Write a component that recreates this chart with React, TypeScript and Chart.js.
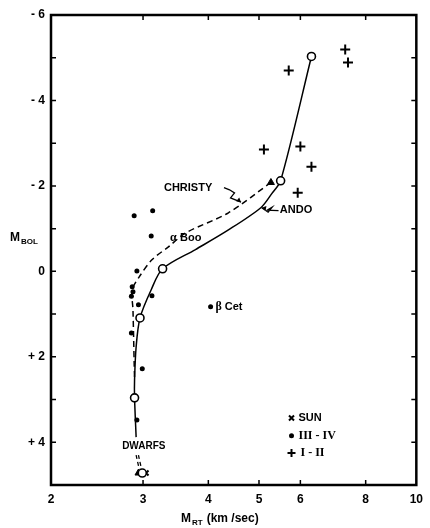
import React, { useEffect, useRef } from "react";
import { Chart, registerables } from "chart.js";

Chart.register(...registerables);

// Solid curve (model)
const solidX = [6.30, 5.50, 5.29, 5.04, 4.37, 3.78, 3.27, 3.11, 2.96, 2.91, 2.89, 2.89, 2.91];
const solidY = [-5.03, -2.12, -1.82, -1.49, -0.97, -0.51, -0.06, 0.43, 1.09, 1.77, 2.54, 2.96, 3.88];
// Dashed curve (Christy)
const christyX = [5.27, 4.37, 3.62, 3.36, 3.12, 2.95, 2.86, 2.87, 2.885, 2.89];
const christyY = [-2.08, -1.37, -0.90, -0.58, -0.27, 0.13, 0.43, 0.90, 2.14, 2.5];
// Dwarf dashed segments
const dwarfAX = [2.91, 2.95];
const dwarfBX = [2.94, 2.98];
const dwarfY = [4.30, 4.63];
// Open circles on the curve
const openX = [6.30, 5.50, 3.27, 2.96, 2.89, 2.99];
const openY = [-5.03, -2.12, -0.06, 1.09, 2.96, 4.72];
// Triangles
const triX = [5.27, 2.94];
const triY = [-2.08, 4.72];
// Sun
const sunX = [3.04];
const sunY = [4.72];
// Luminosity class III-IV
const dotX = [2.885, 3.13, 3.11, 2.92, 2.86, 2.87, 2.85, 3.12, 2.94, 4.04, 2.85, 2.99, 2.92];
const dotY = [-1.30, -1.42, -0.83, -0.01, 0.36, 0.48, 0.58, 0.57, 0.78, 0.83, 1.44, 2.28, 3.48];
// Luminosity class I-II
const plusX = [7.31, 7.40, 5.70, 5.11, 6.00, 6.30, 5.93];
const plusY = [-5.19, -4.89, -4.70, -2.85, -2.92, -2.45, -1.84];

const xTicks = [2, 3, 4, 5, 6, 8, 10];
const yTicks = [-6, -4, -2, 0, 2, 4];
const yMinorTicks = [-5, -4, -3, -2, -1, 0, 1, 2, 3, 4];
const xInnerTicks = [3, 4, 5, 6, 8];

const pts = (xs: number[], ys: number[]) => xs.map((x, i) => ({ x, y: ys[i] }));

const SANS = '"Liberation Sans", Arial, sans-serif';
const SERIF = '"Liberation Serif", serif';

const decorPlugin = {
  id: "decor",
  afterDraw(chart: any) {
    const ctx = chart.ctx;
    const xs = chart.scales.x;
    const ys = chart.scales.y;
    const { left, right, top, bottom } = chart.chartArea;
    const X = (v: number) => xs.getPixelForValue(v);
    const Y = (v: number) => ys.getPixelForValue(v);
    ctx.save();
    ctx.strokeStyle = "#000";
    ctx.fillStyle = "#000";
    // frame
    ctx.lineWidth = 2.5;
    ctx.strokeRect(left, top, right - left, bottom - top);
    // inward ticks
    ctx.lineWidth = 1.5;
    ctx.beginPath();
    for (const v of yMinorTicks) {
      const p = Y(v);
      ctx.moveTo(left, p); ctx.lineTo(left + 5, p);
      ctx.moveTo(right, p); ctx.lineTo(right - 5, p);
    }
    for (const v of xInnerTicks) {
      const p = X(v);
      ctx.moveTo(p, bottom); ctx.lineTo(p, bottom - 5);
      ctx.moveTo(p, top); ctx.lineTo(p, top + 5);
    }
    ctx.stroke();

    // axis titles
    ctx.textBaseline = "alphabetic";
    ctx.textAlign = "left";
    ctx.font = `bold 12px ${SANS}`;
    ctx.fillText("M", 10, 241);
    let w = ctx.measureText("M").width;
    ctx.font = `bold 8px ${SANS}`;
    ctx.fillText("BOL", 10 + w + 1, 244);

    ctx.font = `bold 12px ${SANS}`;
    ctx.fillText("M", 181, 522);
    w = ctx.measureText("M").width;
    ctx.font = `bold 8px ${SANS}`;
    ctx.fillText("RT", 181 + w + 1, 525);
    const w2 = ctx.measureText("RT").width;
    ctx.font = `bold 12px ${SANS}`;
    ctx.fillText("(km /sec)", 181 + w + w2 + 5, 522);

    // labels
    ctx.textBaseline = "middle";
    ctx.font = `bold 11px ${SANS}`;
    ctx.fillText("CHRISTY", X(3.29), Y(-1.96));
    ctx.fillText("ANDO", X(5.48), Y(-1.44));
    ctx.fillText("Boo", X(3.53), Y(-0.79));
    ctx.fillText("Cet", X(4.30), Y(0.83));
    ctx.font = `bold 12px ${SERIF}`;
    ctx.fillText("\u03B1", X(3.38), Y(-0.79));
    ctx.fillText("\u03B2", X(4.13), Y(0.83));
    ctx.font = `bold 10px ${SANS}`;
    ctx.textAlign = "center";
    ctx.fillText("DWARFS", X(3.01), Y(4.09));

    // squiggle arrows
    ctx.lineWidth = 1.3;
    const squig = (x0: number, y0: number, x1: number, y1: number) => {
      const mx = (x0 + x1) / 2, my = (y0 + y1) / 2;
      ctx.beginPath();
      ctx.moveTo(x0, y0);
      ctx.lineTo(mx - 3, y0 + (my - y0) * 0.3);
      ctx.lineTo(mx + 2, my - 2);
      ctx.lineTo(mx - 2, my + 3);
      ctx.lineTo(x1, y1);
      ctx.stroke();
      const a = Math.atan2(y1 - y0, x1 - x0);
      ctx.beginPath();
      ctx.moveTo(x1, y1);
      ctx.lineTo(x1 - 5 * Math.cos(a - 0.5), y1 - 5 * Math.sin(a - 0.5));
      ctx.lineTo(x1 - 5 * Math.cos(a + 0.5), y1 - 5 * Math.sin(a + 0.5));
      ctx.closePath();
      ctx.fill();
    };
    squig(X(3.29) + 60, Y(-1.96), X(4.62), Y(-1.62));
    squig(X(5.45), Y(-1.42), X(5.06), Y(-1.49));

    // legend
    const lx = X(5.77);
    const tx = X(5.95);
    const l1 = Y(3.43), l2 = Y(3.85), l3 = Y(4.25);
    ctx.lineWidth = 2;
    ctx.beginPath();
    ctx.moveTo(lx - 2.5, l1 - 2.5); ctx.lineTo(lx + 2.5, l1 + 2.5);
    ctx.moveTo(lx + 2.5, l1 - 2.5); ctx.lineTo(lx - 2.5, l1 + 2.5);
    ctx.moveTo(lx - 4, l3); ctx.lineTo(lx + 4, l3);
    ctx.moveTo(lx, l3 - 4); ctx.lineTo(lx, l3 + 4);
    ctx.stroke();
    ctx.beginPath();
    ctx.arc(lx, l2, 2.5, 0, Math.PI * 2);
    ctx.fill();
    ctx.textAlign = "left";
    ctx.font = `bold 11px ${SANS}`;
    ctx.fillText("SUN", tx, l1);
    ctx.font = `bold 12px ${SERIF}`;
    ctx.fillText("III - IV", tx, l2);
    ctx.fillText("I - II", tx + 2, l3);
    ctx.restore();
  },
};

export default function App() {
  const ref = useRef<HTMLCanvasElement>(null);
  useEffect(() => {
    if (!ref.current) return;
    const line = (data: any[], dash: number[], width: number) => ({
      data,
      showLine: true,
      borderColor: "#000",
      borderWidth: width,
      borderDash: dash,
      pointRadius: 0,
      tension: 0.3,
      fill: false,
      order: 5,
    });
    const chart = new Chart(ref.current, {
      type: "scatter",
      data: {
        datasets: [
          { data: pts(openX, openY), pointStyle: "circle", pointRadius: 4, backgroundColor: "#fff", borderColor: "#000", borderWidth: 1.6, order: 0 } as any,
          { data: pts(triX, triY), pointStyle: "triangle", pointRadius: 4, backgroundColor: "#000", borderColor: "#000", borderWidth: 1, order: 1 },
          { data: pts(sunX, sunY), pointStyle: "crossRot", pointRadius: 3.5, borderColor: "#000", borderWidth: 2, order: 1 },
          { data: pts(dotX, dotY), pointStyle: "circle", pointRadius: 2.5, backgroundColor: "#000", borderColor: "#000", borderWidth: 0, order: 2 },
          { data: pts(plusX, plusY), pointStyle: "cross", pointRadius: 5, borderColor: "#000", borderWidth: 2, order: 2 },
          line(pts(solidX, solidY), [], 1.5),
          line(pts(christyX, christyY), [6, 4], 1.5),
          line(pts(dwarfAX, dwarfY), [4, 3], 1.3),
          line(pts(dwarfBX, dwarfY), [4, 3], 1.3),
        ],
      },
      options: {
        animation: false,
        responsive: false,
        maintainAspectRatio: false,
        layout: { padding: { top: 15, right: 10, left: 0, bottom: 0 } },
        plugins: { legend: { display: false }, tooltip: { enabled: false } },
        scales: {
          x: {
            type: "logarithmic",
            min: 2,
            max: 10,
            grid: { display: false, drawTicks: false },
            border: { display: false },
            afterBuildTicks: (s: any) => { s.ticks = xTicks.map((v) => ({ value: v })); },
            afterFit: (s: any) => { s.height = 43; },
            ticks: {
              color: "#000",
              padding: 7,
              maxRotation: 0,
              autoSkip: false,
              font: { family: SANS, size: 12, weight: "bold" },
              callback: (v: any) => String(v),
            },
          },
          y: {
            type: "linear",
            min: -6,
            max: 5,
            reverse: true,
            grid: { display: false, drawTicks: false },
            border: { display: false },
            afterBuildTicks: (s: any) => { s.ticks = yTicks.map((v) => ({ value: v })); },
            afterFit: (s: any) => { s.width = 51; },
            ticks: {
              color: "#000",
              padding: 6,
              autoSkip: false,
              font: { family: SANS, size: 12, weight: "bold" },
              callback: (v: any) => (v < 0 ? "- " + -v : v > 0 ? "+ " + v : "0"),
            },
          },
        },
      },
      plugins: [decorPlugin],
    } as any);
    return () => chart.destroy();
  }, []);
  return (
    <div style={{ position: "fixed", left: 0, top: 0, width: 430, height: 528, background: "#fff" }}>
      <canvas ref={ref} width={430} height={528} />
    </div>
  );
}
